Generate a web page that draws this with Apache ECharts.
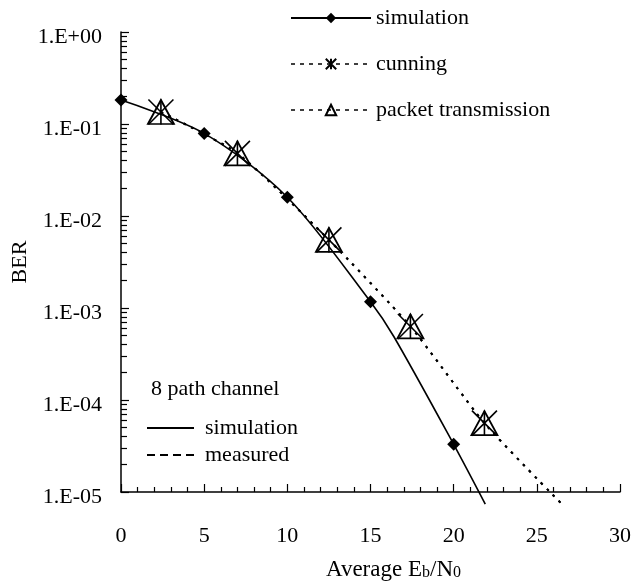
<!DOCTYPE html>
<html>
<head>
<meta charset="utf-8">
<script src="https://cdn.jsdelivr.net/npm/echarts@6/dist/echarts.min.js"></script>
<style>
  html, body { margin: 0; padding: 0; background: #fff; }
  #chart { width: 634px; height: 582px; }
</style>
</head>
<body>
<div id="chart"></div>
<script>
// simulation (solid line, diamonds at 0,5,10,15,20)
var simX = [0, 5, 10, 15, 16.4, 20, 21.9]
var simY = [0.182, 0.079, 0.016, 0.00117, 0.00049, 0.000033, 0.0000074]
// measured: cunning / packet transmission (dotted)
var measX = [2.4, 7, 12.5, 17.4, 21.85, 26.5]
var cunningY = [0.135, 0.048, 0.0055, 0.00063, 0.000056, 0.0000074]
var packetY = [0.135, 0.048, 0.0055, 0.00063, 0.000056, 0.0000074]
var markerCount = 5

var yTickLabels = { 1: '1.E+00', 0.1: '1.E-01', 0.01: '1.E-02', 0.001: '1.E-03', 0.0001: '1.E-04', 0.00001: '1.E-05' }

var font = 'Liberation Serif'
var starPath = 'path://M0,0L20,20M20,0L0,20M10,0L10,20'

// simulation: diamonds only on the 5 dB points
var simData = simX.map(function (x, i) {
  return x % 5 === 0 ? [x, simY[i]] : { value: [x, simY[i]], symbol: 'none' }
})
function measData(ys) {
  return measX.map(function (x, i) {
    return i < markerCount ? [x, ys[i]] : { value: [x, ys[i]], symbol: 'none' }
  })
}

var chart = echarts.init(document.getElementById('chart'))

var option = {
  backgroundColor: '#fff',
  animation: false,
  textStyle: { fontFamily: font, color: '#000' },
  title: {
    text: '8 path channel',
    left: 146,
    top: 373,
    textStyle: { fontFamily: font, fontSize: 22, fontWeight: 'normal', color: '#000' }
  },
  grid: { left: 121, right: 14, top: 32, bottom: 90, outerBoundsMode: 'none', containLabel: false },
  legend: [
    {
      orient: 'vertical',
      left: 285,
      top: 2,
      itemWidth: 80,
      itemHeight: 13,
      itemGap: 24,
      textStyle: { fontFamily: font, fontSize: 22, color: '#000' },
      data: [
        { name: 'simulation' },
        { name: 'cunning', lineStyle: { type: [4, 5], width: 1.4 } },
        { name: 'packet transmission', lineStyle: { type: [4, 5], width: 1.4 } }
      ]
    },
    {
      orient: 'vertical',
      left: 141,
      top: 412,
      itemWidth: 47,
      itemHeight: 14,
      itemGap: 5,
      textStyle: { fontFamily: font, fontSize: 22, color: '#000', padding: [0, 0, 0, 6] },
      formatter: function (name) { return name === 'simLine' ? 'simulation' : 'measured' },
      data: ['simLine', 'measLine']
    }
  ],
  xAxis: {
    type: 'value',
    min: 0,
    max: 30,
    interval: 5,
    name: 'Average E{s|b}/N{s|0}',
    nameLocation: 'middle',
    nameGap: 66,
    nameTextStyle: {
      fontFamily: font, fontSize: 23, color: '#000', padding: [0, 0, 0, 46],
      rich: { s: { fontFamily: font, fontSize: 16, color: '#000', verticalAlign: 'bottom', padding: [6, 0, 0, 0] } }
    },
    splitLine: { show: false },
    axisLine: { lineStyle: { color: '#000', width: 1.5 } },
    axisTick: { inside: true, length: 8, lineStyle: { color: '#000', width: 1.2 } },
    minorTick: { show: true, splitNumber: 5, length: 5, lineStyle: { color: '#000', width: 1.2 } },
    axisLabel: { fontFamily: font, fontSize: 22, color: '#000', margin: 33 }
  },
  yAxis: {
    type: 'log',
    logBase: 10,
    min: 0.00001,
    max: 1,
    name: 'BER',
    nameLocation: 'middle',
    nameGap: 90,
    nameMoveOverlap: false,
    nameTextStyle: { fontFamily: font, fontSize: 22, color: '#000' },
    splitLine: { show: false },
    axisLine: { show: true, lineStyle: { color: '#000', width: 1.5 } },
    axisTick: { inside: true, length: 8, lineStyle: { color: '#000', width: 1.2 } },
    minorTick: { show: true, splitNumber: 9, length: 6, lineStyle: { color: '#000', width: 1.2 } },
    axisLabel: {
      fontFamily: font, fontSize: 22, color: '#000', margin: 19,
      verticalAlign: 'top',
      lineHeight: 10,
      formatter: function (v) {
        return yTickLabels[v] || ''
      }
    }
  },
  series: [
    {
      name: 'simulation',
      type: 'line',
      data: simData,
      smooth: 0.3,
      clip: false,
      symbol: 'diamond',
      symbolSize: 13,
      itemStyle: { color: '#000' },
      lineStyle: { color: '#000', width: 1.6 },
      z: 3
    },
    {
      name: 'cunning',
      type: 'line',
      data: measData(cunningY),
      smooth: 0.2,
      clip: false,
      symbol: starPath,
      symbolSize: 25,
      itemStyle: { color: 'transparent', borderColor: '#000', borderWidth: 1.6 },
      lineStyle: { color: '#000', width: 2, type: [2.5, 6] },
      z: 2
    },
    {
      name: 'packet transmission',
      type: 'line',
      data: measData(packetY),
      smooth: 0.2,
      clip: false,
      symbol: 'triangle',
      symbolSize: [26, 24],
      itemStyle: { color: 'transparent', borderColor: '#000', borderWidth: 1.8 },
      lineStyle: { color: '#000', width: 2, type: [2.5, 6] },
      z: 2
    },
    {
      name: 'simLine',
      type: 'line',
      data: [],
      symbol: 'none',
      itemStyle: { color: 'transparent', borderWidth: 0 },
      lineStyle: { color: '#000', width: 1.6 }
    },
    {
      name: 'measLine',
      type: 'line',
      data: [],
      symbol: 'none',
      itemStyle: { color: 'transparent', borderWidth: 0 },
      lineStyle: { color: '#000', width: 2.5, type: [8, 5] }
    }
  ]
}

chart.setOption(option)
</script>
</body>
</html>
